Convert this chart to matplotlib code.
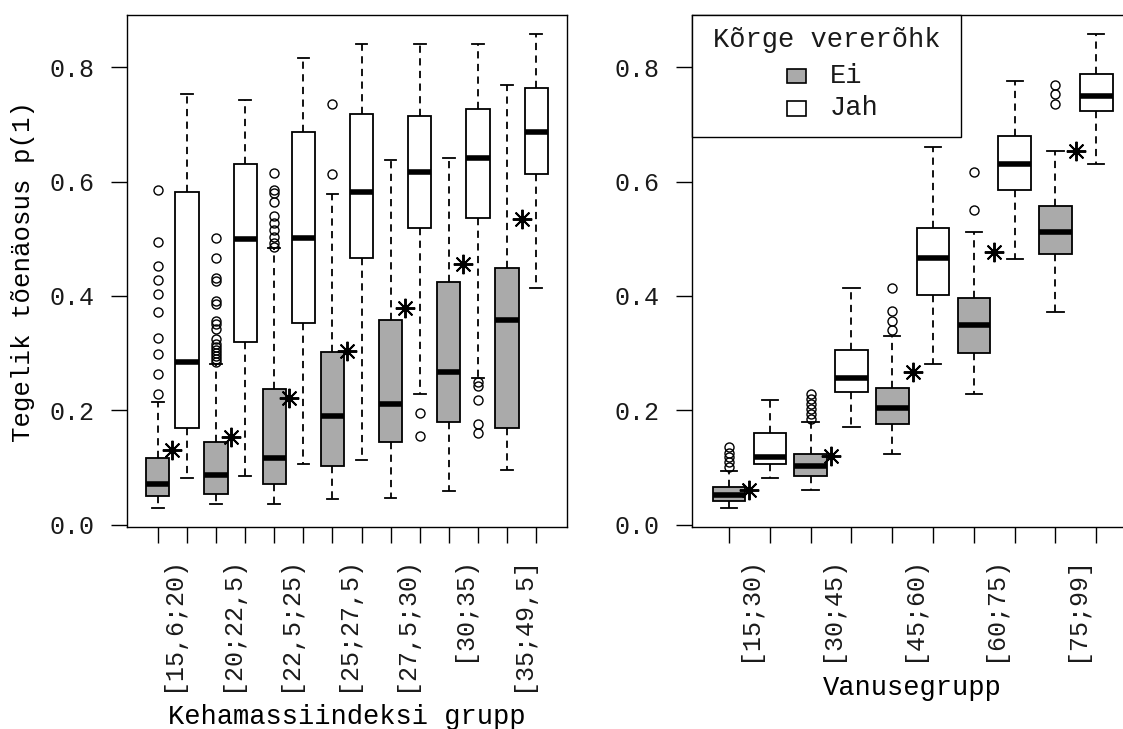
import matplotlib
matplotlib.use('Agg')
import matplotlib.pyplot as plt
from matplotlib.patches import Rectangle
from matplotlib.ticker import FormatStrFormatter

plt.rcParams['font.family'] = ['Liberation Mono', 'DejaVu Sans Mono']
plt.rcParams['font.size'] = 18
plt.rcParams['text.color'] = '#1a1a1a'
plt.rcParams['xtick.color'] = 'black'
plt.rcParams['ytick.color'] = 'black'
plt.rcParams['xtick.labelcolor'] = '#1a1a1a'
plt.rcParams['ytick.labelcolor'] = '#1a1a1a'

# --- Kehamassiindeksi grupp (left panel) ---
bmi_labels = ["[15,6;20)", "[20;22,5)", "[22,5;25)", "[25;27,5)",
              "[27,5;30)", "[30;35)", "[35;49,5]"]

# Korge vererohk = Ei (grey boxes)
bmi_ei_lo = [0.029, 0.036, 0.036, 0.044, 0.047, 0.058, 0.096]
bmi_ei_q1 = [0.050, 0.054, 0.071, 0.102, 0.144, 0.179, 0.169]
bmi_ei_med = [0.071, 0.086, 0.116, 0.190, 0.211, 0.267, 0.358]
bmi_ei_q3 = [0.116, 0.144, 0.237, 0.302, 0.358, 0.424, 0.449]
bmi_ei_hi = [0.214, 0.281, 0.484, 0.578, 0.637, 0.641, 0.769]
bmi_ei_out = [
    [0.228, 0.263, 0.299, 0.327, 0.372, 0.404, 0.428, 0.452, 0.495, 0.586],
    [0.284, 0.289, 0.294, 0.300, 0.305, 0.310, 0.315, 0.324, 0.342, 0.350,
     0.356, 0.385, 0.391, 0.426, 0.432, 0.467, 0.502],
    [0.486, 0.493, 0.503, 0.516, 0.528, 0.539, 0.565, 0.580, 0.586, 0.615],
    [0.613, 0.736],
    [], [], [],
]

# Korge vererohk = Jah (white boxes)
bmi_jah_lo = [0.082, 0.085, 0.106, 0.113, 0.228, 0.256, 0.414]
bmi_jah_q1 = [0.169, 0.319, 0.352, 0.467, 0.519, 0.536, 0.613]
bmi_jah_med = [0.285, 0.499, 0.502, 0.582, 0.617, 0.641, 0.687]
bmi_jah_q3 = [0.582, 0.631, 0.687, 0.718, 0.714, 0.726, 0.763]
bmi_jah_hi = [0.753, 0.743, 0.816, 0.841, 0.841, 0.841, 0.858]
bmi_jah_out = [[], [], [], [], [0.196, 0.155],
               [0.250, 0.243, 0.218, 0.176, 0.161], []]

bmi_stars = [0.131, 0.154, 0.221, 0.303, 0.378, 0.456, 0.534]

# --- Vanusegrupp (right panel) ---
age_labels = ["[15;30)", "[30;45)", "[45;60)", "[60;75)", "[75;99]"]

age_ei_lo = [0.029, 0.061, 0.123, 0.229, 0.372]
age_ei_q1 = [0.042, 0.085, 0.176, 0.300, 0.474]
age_ei_med = [0.052, 0.103, 0.204, 0.349, 0.512]
age_ei_q3 = [0.065, 0.123, 0.239, 0.397, 0.557]
age_ei_hi = [0.094, 0.180, 0.330, 0.512, 0.654]
age_ei_out = [[0.100, 0.109, 0.118, 0.126, 0.135],
              [0.185, 0.193, 0.202, 0.211, 0.219, 0.228],
              [0.340, 0.356, 0.374, 0.414],
              [0.551, 0.617],
              [0.736, 0.753, 0.769]]

age_jah_lo = [0.082, 0.170, 0.281, 0.464, 0.631]
age_jah_q1 = [0.106, 0.232, 0.401, 0.586, 0.723]
age_jah_med = [0.119, 0.256, 0.467, 0.631, 0.750]
age_jah_q3 = [0.160, 0.305, 0.519, 0.680, 0.788]
age_jah_hi = [0.218, 0.414, 0.660, 0.775, 0.858]
age_jah_out = [[], [], [], [], []]

age_stars = [0.060, 0.120, 0.267, 0.476, 0.654]

legend_title = "Kõrge vererõhk"
legend_names = ["Ei", "Jah"]
grey = '#aaaaaa'


def make_stats(lo, q1, med, q3, hi, out):
    return [dict(whislo=a, q1=b, med=c, q3=d, whishi=e, fliers=f)
            for a, b, c, d, e, f in zip(lo, q1, med, q3, hi, out)]


def draw_panel(ax, labels, ei, jah, stars):
    n = len(labels)
    stats, colors = [], []
    for s_ei, s_jah in zip(ei, jah):
        stats += [s_ei, s_jah]
        colors += [grey, 'white']
    pos = list(range(1, 2 * n + 1))
    res = ax.bxp(stats, positions=pos, widths=0.8, capwidths=0.4,
                 patch_artist=True, manage_ticks=False,
                 boxprops=dict(edgecolor='black', linewidth=1.3),
                 whiskerprops=dict(color='black', linewidth=1.3,
                                   linestyle=(0, (4, 3))),
                 capprops=dict(color='black', linewidth=1.3),
                 medianprops=dict(color='black', linewidth=4,
                                  solid_capstyle='butt'),
                 flierprops=dict(marker='o', markerfacecolor='none',
                                 markeredgecolor='black', markersize=6.5,
                                 markeredgewidth=1.0))
    for box, c in zip(res['boxes'], colors):
        box.set_facecolor(c)

    mid = [2 * k + 1.5 for k in range(n)]
    ax.plot(mid, stars, linestyle='none', marker=(8, 2, 0),
            markersize=14, markeredgewidth=1.4, color='black', zorder=5)

    ax.set_xlim(0.5 - 0.04 * 2 * n, 2 * n + 0.5 + 0.04 * 2 * n)
    vals = [v for s in stats for v in [s['whislo'], s['whishi']] + list(s['fliers'])]
    lo, hi = min(vals), max(vals)
    pad = 0.04 * (hi - lo)
    ax.set_ylim(lo - pad, hi + pad)

    ax.set_xticks(pos)
    ax.set_xticklabels([])
    ax.set_xticks(mid, minor=True)
    ax.set_xticklabels(labels, minor=True, rotation=90)
    ax.tick_params(axis='x', which='major', length=11.5, width=1.0,
                   direction='out')
    ax.tick_params(axis='x', which='minor', length=0, pad=21)
    ax.set_yticks([0.0, 0.2, 0.4, 0.6, 0.8])
    ax.yaxis.set_major_formatter(FormatStrFormatter('%.1f'))
    ax.tick_params(axis='y', length=11.5, width=1.0, pad=12)
    for sp in ax.spines.values():
        sp.set_linewidth(1.0)


fig = plt.figure(figsize=(11.23, 7.29), dpi=100)
ax1 = fig.add_axes([0.1131, 0.2771, 0.3918, 0.7023])
ax2 = fig.add_axes([0.6165, 0.2771, 0.3924, 0.7023])

draw_panel(ax1, bmi_labels,
           make_stats(bmi_ei_lo, bmi_ei_q1, bmi_ei_med, bmi_ei_q3, bmi_ei_hi, bmi_ei_out),
           make_stats(bmi_jah_lo, bmi_jah_q1, bmi_jah_med, bmi_jah_q3, bmi_jah_hi, bmi_jah_out),
           bmi_stars)
draw_panel(ax2, age_labels,
           make_stats(age_ei_lo, age_ei_q1, age_ei_med, age_ei_q3, age_ei_hi, age_ei_out),
           make_stats(age_jah_lo, age_jah_q1, age_jah_med, age_jah_q3, age_jah_hi, age_jah_out),
           age_stars)

ax1.set_ylabel("Tegelik tõenäosus p(1)", fontsize=18.5)
ax1.yaxis.set_label_coords(-0.21, 0.5)
ax1.set_xlabel("Kehamassiindeksi grupp", va='center', fontsize=19.5)
ax1.xaxis.set_label_coords(0.5, -0.372)
ax2.set_xlabel("Vanusegrupp", va='center', fontsize=19.5)
ax2.xaxis.set_label_coords(0.5, -0.315)

# legend box drawn R-style in the top left corner of the right panel
ax2.add_patch(Rectangle((0, 0.762), 0.609, 0.238, transform=ax2.transAxes,
                        facecolor='white', edgecolor='black', linewidth=1.0,
                        zorder=6, clip_on=False))
ax2.text(0.305, 0.951, legend_title, transform=ax2.transAxes,
         ha='center', va='center', fontsize=19.5, zorder=7)
for name, c, yy in zip(legend_names, [grey, 'white'], [0.881, 0.818]):
    ax2.add_patch(Rectangle((0.237 - 0.0215, yy - 0.0145), 0.043, 0.029,
                            transform=ax2.transAxes, facecolor=c,
                            edgecolor='black', linewidth=1.2, zorder=7))
    ax2.text(0.3125, yy, name, transform=ax2.transAxes, ha='left',
             va='center', fontsize=19.5, zorder=7)

plt.savefig('out.png', dpi=100)
